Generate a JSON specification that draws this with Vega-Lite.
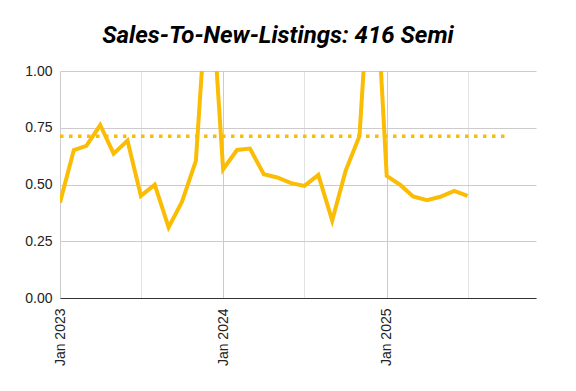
{
  "$schema": "https://vega.github.io/schema/vega-lite/v6.json",
  "width": 476,
  "height": 227,
  "autosize": {"type": "none"},
  "padding": {"left": 60, "top": 71, "right": 40, "bottom": 93},
  "background": "white",
  "config": {"view": {"stroke": null}},
  "title": {
    "text": "Sales-To-New-Listings: 416 Semi",
    "font": "Roboto",
    "fontSize": 24,
    "fontWeight": "bold",
    "fontStyle": "italic",
    "color": "#000000",
    "anchor": "middle",
    "dx": -20,
    "baseline": "alphabetic",
    "offset": 30,
    "dy": 33
  },
  "datasets": {
    "series": [
      {"date": "2023-01-01", "value": 0.421},
      {"date": "2023-02-01", "value": 0.652},
      {"date": "2023-03-01", "value": 0.670},
      {"date": "2023-04-01", "value": 0.762},
      {"date": "2023-05-01", "value": 0.636},
      {"date": "2023-06-01", "value": 0.694},
      {"date": "2023-07-01", "value": 0.450},
      {"date": "2023-08-01", "value": 0.499},
      {"date": "2023-09-01", "value": 0.311},
      {"date": "2023-10-01", "value": 0.424},
      {"date": "2023-11-01", "value": 0.604},
      {"date": "2023-12-01", "value": 1.50},
      {"date": "2024-01-01", "value": 0.567},
      {"date": "2024-02-01", "value": 0.652},
      {"date": "2024-03-01", "value": 0.658},
      {"date": "2024-04-01", "value": 0.545},
      {"date": "2024-05-01", "value": 0.531},
      {"date": "2024-06-01", "value": 0.506},
      {"date": "2024-07-01", "value": 0.494},
      {"date": "2024-08-01", "value": 0.542},
      {"date": "2024-09-01", "value": 0.341},
      {"date": "2024-10-01", "value": 0.560},
      {"date": "2024-11-01", "value": 0.713},
      {"date": "2024-12-01", "value": 1.65},
      {"date": "2025-01-01", "value": 0.538},
      {"date": "2025-02-01", "value": 0.497},
      {"date": "2025-03-01", "value": 0.447},
      {"date": "2025-04-01", "value": 0.431},
      {"date": "2025-05-01", "value": 0.446},
      {"date": "2025-06-01", "value": 0.472},
      {"date": "2025-07-01", "value": 0.450}
    ],
    "average": [
      {"date": "2023-01-01", "value": 0.713},
      {"date": "2025-10-01", "value": 0.713}
    ]
  },
  "encoding": {
    "x": {
      "field": "date",
      "type": "temporal",
      "scale": {
        "type": "utc",
        "domain": [
          {"year": 2023, "month": 1, "date": 1, "utc": true},
          {"year": 2025, "month": 12, "date": 1, "utc": true}
        ]
      },
      "axis": {
        "title": null,
        "values": [
          {"year": 2023, "month": 1, "date": 1, "utc": true},
          {"year": 2023, "month": 7, "date": 1, "utc": true},
          {"year": 2024, "month": 1, "date": 1, "utc": true},
          {"year": 2024, "month": 7, "date": 1, "utc": true},
          {"year": 2025, "month": 1, "date": 1, "utc": true},
          {"year": 2025, "month": 7, "date": 1, "utc": true}
        ],
        "labelExpr": "utcmonth(datum.value) == 0 ? utcFormat(datum.value, '%b %Y') : ''",
        "labelAngle": 270,
        "labelFont": "Liberation Sans",
        "labelFontSize": 14,
        "labelColor": "#222222",
        "labelPadding": 10,
        "ticks": false,
        "domainColor": "#333333",
        "grid": true,
        "gridColor": {"condition": {"test": "utcmonth(datum.value) == 0", "value": "#cccccc"}, "value": "#e3e3e3"},
        "labelFlush": false,
        "labelOverlap": false
      }
    },
    "y": {
      "field": "value",
      "type": "quantitative",
      "scale": {"domain": [0, 1], "nice": false},
      "axis": {
        "title": null,
        "values": [0, 0.25, 0.5, 0.75, 1],
        "format": ".2f",
        "labelFont": "Liberation Sans",
        "labelFontSize": 14,
        "labelColor": "#222222",
        "labelPadding": 8,
        "ticks": false,
        "domain": false,
        "gridColor": "#cccccc"
      }
    }
  },
  "layer": [
    {
      "data": {"name": "average"},
      "mark": {"type": "line", "color": "#FBBC04", "strokeWidth": 3.5, "strokeDash": [3.5, 5.5], "strokeCap": "butt", "clip": true}
    },
    {
      "data": {"name": "series"},
      "mark": {"type": "line", "color": "#FBBC04", "strokeWidth": 4, "strokeJoin": "miter", "clip": true}
    }
  ]
}
